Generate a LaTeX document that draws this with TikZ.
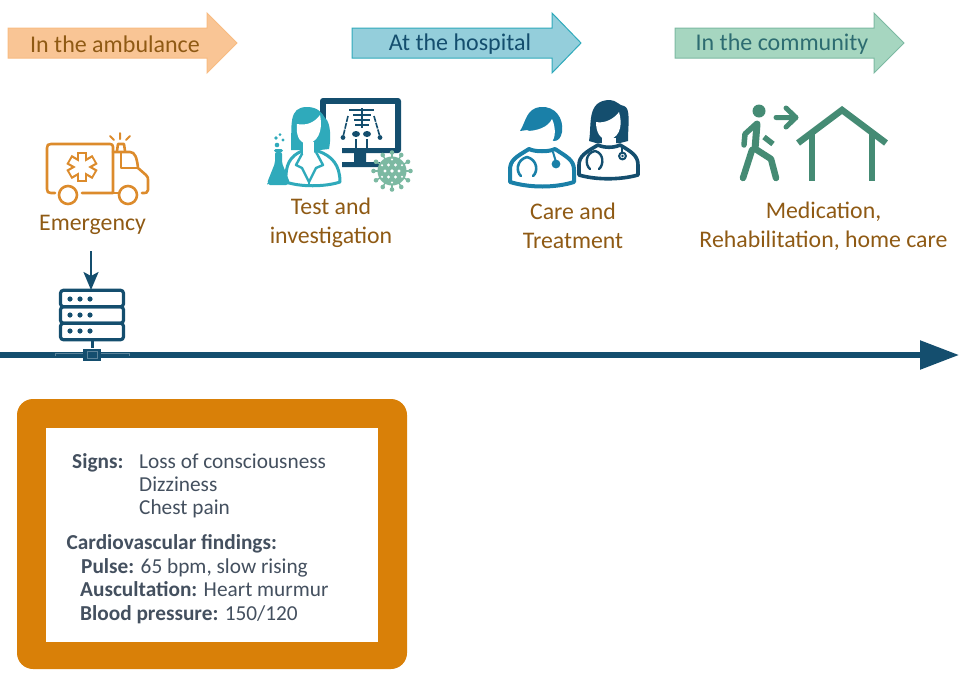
\documentclass[tikz,border=0pt]{standalone}
\usepackage{fontspec}
\setmainfont{Carlito}
\usetikzlibrary{arrows.meta}
\definecolor{amb}{HTML}{DC8B2C}
\definecolor{lab}{HTML}{8F5A14}
\definecolor{navy}{HTML}{144E6E}
\definecolor{teal1}{HTML}{2FAABB}
\definecolor{blue1}{HTML}{1A80A8}
\definecolor{grn}{HTML}{458B74}
\definecolor{vir}{HTML}{7CB9A2}
\definecolor{boxor}{HTML}{D98008}
\definecolor{slate}{HTML}{44505F}
\definecolor{banO}{HTML}{F9C595}
\definecolor{banOb}{HTML}{F8BC82}
\definecolor{banT}{HTML}{94CEDB}
\definecolor{banG}{HTML}{A6D6C0}
\tikzset{
 lbl/.style={text=lab,align=center,font=\fontsize{23.8}{29}\selectfont,inner sep=0pt},
 arrowtxt/.style={font=\fontsize{24}{28}\selectfont,inner sep=0pt},
 boxtxt/.style={anchor=base west,text=slate,font=\fontsize{21.3}{25}\selectfont,inner sep=0pt},
 ic/.style={line width=2.6pt,amb,line cap=round,line join=round},
 walk/.style={line width=7pt,grn,line cap=round,line join=round},
 srvbox/.style={draw=navy,line width=3.2pt,rounded corners=3pt,minimum width=63pt,minimum height=16.5pt,inner sep=0pt},
 banner/.style={line width=1pt}
}
\begin{document}
\begin{tikzpicture}[x=1pt,y=-1pt]
\useasboundingbox (0,0) rectangle (959,673);
% banners
\path[banner,draw=banOb,fill=banO]
 (8,28)--(207,28)--(207,13)--(237,43)--(207,73)--(207,58)--(8,58)--cycle;
\path[banner,draw=teal1,fill=banT]
 (352,28)--(552,28)--(552,13)--(581,43)--(552,73)--(552,58)--(352,58)--cycle;
\path[banner,draw=vir,fill=banG]
 (675,28)--(874,28)--(874,13)--(904,43)--(874,73)--(874,58)--(675,58)--cycle;
\node[arrowtxt,text=lab] (t1) at (115,44) {In the ambulance};
\node[arrowtxt,text=navy] (t2) at (460,44) {At the hospital};
\node[arrowtxt,text=navy!50!grn] (t3) at (782,44.5) {In the community};
% ambulance
\draw[ic] (55,193)--(51,193) .. controls (48,193) and (47,192) .. (47,189)--(47,148) .. controls (47,145) and (48,144) .. (51,144)--(110,144) .. controls (112,144) and (113,145) .. (113,147)--(113,193)--(82,193);
\draw[ic] (113,193)--(119,193);
\draw[ic] (113,152)--(130,152) .. controls (135,152) and (137,158) .. (138,168)--(146,175) .. controls (148,177) and (148,178) .. (148,180)--(148,190) .. controls (148,193) and (146,193) .. (142,193);
\draw[ic] (121,152)--(121,168)--(138,168);
\draw[ic] (117,151)--(118,144)--(124,144)--(125,151);
\draw[ic,line width=2pt] (120,133)--(120,139) (110,136)--(114,140) (130,136)--(126,140);
\draw[ic] (68,195) circle (9) (128,195) circle (9);
\foreach \a in {0,60,120}{\draw[amb,line width=10.5pt,rotate around={\a:(82,167)}] (82,152)--(82,182);}
\foreach \a in {0,60,120}{\draw[white,line width=6pt,rotate around={\a:(82,167)}] (82,154)--(82,180);}
\node[lbl] (emerg) at (92.5,225) {Emergency};
% monitor
\fill[navy,rounded corners=3pt] (320,98) rectangle (401,153);
\fill[white] (326,104) rectangle (395,148);
\fill[navy] (354,153) rectangle (366,163) (342,162) rectangle (380,167);
\begin{scope}[navy,line width=1.6pt]
\draw (349,110)--(374,110) (362,108)--(362,128);
\draw[line width=1.3pt] (353,115)--(371,115) (354,120)--(370,120) (355,125)--(369,125);
\draw[dash pattern=on 6pt off 1pt] (348,116)--(343,137);
\draw[dash pattern=on 6pt off 1pt] (374,116)--(380,137);
\fill (343,137.5) circle (2.4) (380,137.5) circle (2.4);
\fill (356,134) ellipse (4 and 3) (367,134) ellipse (4 and 3);
\draw (356,139)--(356,151) (367,139)--(367,151);
\end{scope}
% woman scientist
\fill[white] (283,148) rectangle (342,188);
\draw[teal1,line width=3pt,line join=round] (286,182) .. controls (285,165) and (290,156) .. (302,151)--(318,151) .. controls (332,156) and (340,165) .. (340,182) .. controls (325,187) and (300,187) .. (286,182)--cycle;
\draw[teal1,line width=2.4pt,line join=round] (303,152)--(296,165)--(302,168)--(309,182)--(316,168)--(323,165)--(316,152);
\draw[teal1,line width=2.4pt] (309,182)--(309,186);
\fill[teal1] (291,150) .. controls (292,125) and (288,107) .. (307,107) .. controls (318,107) and (322,113) .. (325,118) .. controls (331,122) and (331,140) .. (329,149) -- (320,150) -- (298,150) --cycle;
\fill[white] (297,124) .. controls (307,126) and (315,122) .. (320,115) .. controls (322,124) and (322,140) .. (308,144) .. controls (298,143) and (296,134) .. (297,124)--cycle;
\fill[white] (303,142) rectangle (314,154);
% flask
\fill[teal1,rounded corners=1.5pt] (274,149) rectangle (283,152);
\fill[teal1,rounded corners=2pt] (275,152)--(282,152)--(282,163)--(290,183)--(288,185)--(268,185)--(267,183)--(275,163)--cycle;
\fill[teal1] (277,145) circle (2.3) (276,138) circle (1.8) (283,140) circle (1.7) (280,134.5) circle (1.5);
% virus
\foreach \a in {0,30,...,330}{\draw[vir,line width=1.5pt] (392,171) -- ++(\a:18); \fill[vir] (392,171) ++(\a:18.5) circle (2.3);}
\fill[vir] (392,171) circle (14.5);
\fill[white] (392,171) circle (1.8);
\foreach \a in {0,60,...,300}{\fill[white] (392,171) ++(\a:7) circle (1.6);}
\foreach \a in {30,90,...,330}{\fill[white] (392,171) ++(\a:11.5) circle (1.2);}
\node[lbl] (test) at (331,223) {Test and\\investigation};
% doctor man
\draw[blue1,line width=4pt,line join=round,fill=white] (510,182) -- (510,170) .. controls (510,160) and (516,157) .. (529,149) .. controls (535,152) and (549,152) .. (555,149) .. controls (567,157) and (574,160) .. (574,170)--(574,182) .. controls (555,188) and (530,188) .. (510,182)--cycle;
\fill[blue1] (520,131) .. controls (526,122) and (526,108) .. (541,107) .. controls (555,106) and (564,118) .. (562,132) .. controls (561,138) and (558,141) .. (554,141)--(527,130)--cycle;
\fill[white] (526,131) .. controls (538,131) and (548,127) .. (552,119) .. controls (555,125) and (556,135) .. (553,140) .. controls (550,146) and (547,148) .. (542,148) .. controls (533,147) and (527,140) .. (526,131)--cycle;
\draw[blue1,line width=2.6pt,line cap=round] (527,157) .. controls (516,160) and (516,172) .. (521,176) (527,157) .. controls (538,160) and (538,172) .. (533,176);
\draw[blue1,line width=2pt] (553,152)--(556,162);
\fill[blue1] (556,164) circle (4.4);
% doctor woman
\draw[navy,line width=3.6pt,line join=round,fill=white] (579,175)--(579,165) .. controls (579,156) and (586,152) .. (598,145) .. controls (604,148) and (614,148) .. (620,145) .. controls (632,152) and (638,156) .. (638,165)--(638,175) .. controls (620,180) and (596,180) .. (579,175)--cycle;
\fill[navy] (589,141) .. controls (592,125) and (586,100) .. (610,100) .. controls (616,100) and (620,106) .. (624,106) .. controls (631,108) and (628,125) .. (628,141)--(620,143)--(596,143)--cycle;
\fill[white] (596,122) .. controls (605,124) and (615,118) .. (619,112) .. controls (622,122) and (622,136) .. (609,140) .. controls (600,140) and (596,132) .. (596,122)--cycle;
\fill[white] (602,138) rectangle (616,144);
\draw[navy,line width=2.4pt,line cap=round] (595,151) .. controls (585,153) and (585,165) .. (590,169) (595,151) .. controls (604,153) and (604,165) .. (599,169);
\draw[navy,line width=1.8pt] (622,147)--(622,153);
\draw[navy,line width=2pt,fill=white] (622.5,156) circle (3.4);
\fill[navy] (622.5,156) circle (1.3);
\node[lbl] (care) at (573,226) {Care and\\Treatment};
% walker
\fill[grn] (759,111) circle (6.5);
\draw[walk] (757,124)--(755,149);
\draw[walk,line width=5.5pt] (756,124)--(745,134)--(744,145);
\draw[walk,line cap=butt,line width=5.5pt] (764,137)--(773,144);
\draw[walk,line width=6.5pt] (752,150)--(743,178);
\draw[walk,line width=6.5pt] (757,150)--(771,159)--(776,178);
\draw[walk,line width=5pt,grn] (776,117.5)--(796,117.5) (786,108)--(796,117.5)--(786,127);
% house
\draw[grn,line width=6.5pt,line join=miter] (798,143)--(842,110)--(886,143);
\draw[grn,line width=6.5pt] (812,133)--(812,181) (872,133)--(872,181);
\node[lbl] (med) at (823.5,226) {Medication,\\Rehabilitation, home care};
% server
\node[srvbox] (s1) at (92,298.5) {};
\node[srvbox] (s2) at (92,315) {};
\node[srvbox] (s3) at (92,331.5) {};
\foreach \yy in {299,315,331}{\foreach \xx in {70,80,90}{\fill[navy] (\xx,\yy) circle (2.6);}}
\coordinate (axisL) at (0,355);
\coordinate (axisR) at (959,355);
\draw[navy,line width=5.5pt,-{Triangle[length=39pt,width=28pt]}] (axisL)--(axisR);
\draw[navy!70!white,line width=.7pt] (55,356)--(55,353.2)--(129,353.2)--(129,356);
\node[fill=navy,minimum width=18pt,minimum height=12pt,inner sep=0pt] (conn) at (92,354.5) {};
\draw[navy!70!white,line width=.7pt] (87,351) rectangle (97,358);
\draw[navy,line width=3pt] (s3.south)--(conn.north);
\coordinate (drop) at (91,251);
\draw[navy,line width=2.6pt,-{Stealth[length=18pt,width=15pt,inset=4pt]}] (drop)--(91,290);
% box
\fill[boxor,rounded corners=16pt] (17,399) rectangle (407,669);
\fill[white] (46,428) rectangle (378,642);
\node[boxtxt] (a) at (72,468.5) {\textbf{Signs:}};
\node[boxtxt] (b) at (139,468) {Loss of consciousness};
\node[boxtxt] (c) at (139,491) {Dizziness};
\node[boxtxt] (d) at (139,514) {Chest pain};
\node[boxtxt] (e) at (66.5,549.5) {\textbf{Cardiovascular findings:}};
\node[boxtxt] (f) at (81,573.5) {\textbf{Pulse:} 65 bpm, slow rising};
\node[boxtxt] (g) at (80,596.5) {\textbf{Auscultation:} Heart murmur};
\node[boxtxt] (h) at (80,620) {\textbf{Blood pressure:} 150/120};
\end{tikzpicture}
\end{document}
